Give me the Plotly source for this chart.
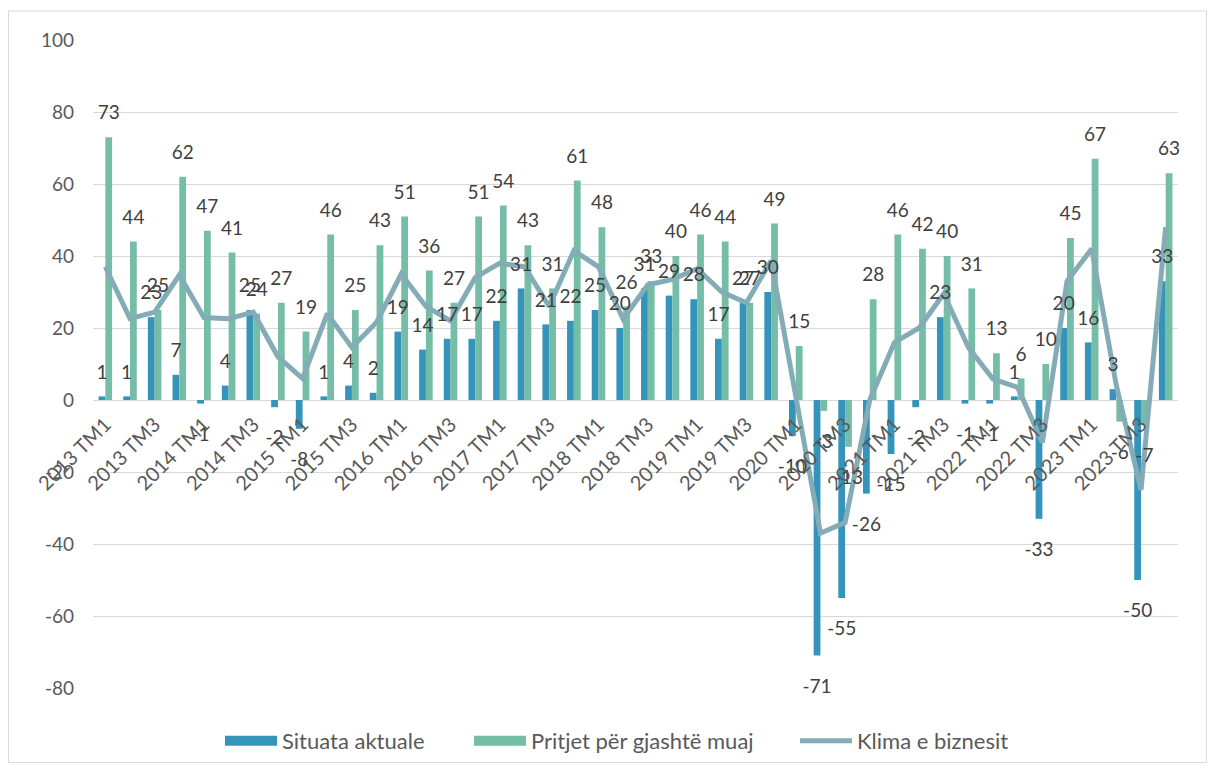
import plotly.graph_objects as go

years = list(range(2013, 2024))
categories = [f"{y} TM{q}" for y in years for q in range(1, 5)]
tick_labels = categories[::2]
y_ticks = [-80, -60, -40, -20, 0, 20, 40, 60, 80, 100]
y_tick_text = [str(v) for v in y_ticks]

situata_aktuale = [1, 1, 23, 7, -1, 4, 25, -2, -8, 1, 4, 2, 19, 14, 17, 17, 22, 31, 21, 22,
                   25, 20, 31, 29, 28, 17, 27, 30, -10, -71, -55, -26, -15, -2, 23, -1, -1, 1,
                   -33, 20, 16, 3, -50, 33]
pritjet = [73, 44, 25, 62, 47, 41, 24, 27, 19, 46, 25, 43, 51, 36, 27, 51, 54, 43, 31, 61,
           48, 26, 33, 40, 46, 44, 27, 49, 15, -3, -13, 28, 46, 42, 40, 31, 13, 6,
           10, 45, 67, -6, -7, 63]
klima = [37, 22.6, 24.4, 34.7, 22.9, 22.6, 24.4, 12, 6, 24, 14.6, 21.6, 35, 26, 22, 34, 38, 37, 26, 41.5,
         37, 22.5, 32, 33.5, 36.5, 30, 27, 38.7, 1, -37, -34, 0, 16, 20, 29.5, 14.6, 5.8, 3.5,
         -11.8, 33, 42, 4, -25, 48]
series_names = ["Situata aktuale", "Pritjet për gjashtë muaj", "Klima e biznesit"]

FONT = "Lato"
W, H = 1199, 755
L, R, T, B = 85, 29, 32, 75
pw, ph = W - L - R, H - T - B
BLUE, GREEN, LINE = "#3494BA", "#75BDA7", "#84ACB6"
LABEL_FONT = dict(family=FONT, size=19, color="#404040")
LABEL_PAD_POS, LABEL_PAD_NEG = 3.0, 4.2  # extra distance (axis units) between bar end and its label

fig = go.Figure()
fig.add_trace(go.Bar(x=categories, y=situata_aktuale, name=series_names[0], showlegend=False,
                     marker=dict(color=BLUE, line=dict(width=0)), hoverinfo="skip"))
fig.add_trace(go.Bar(x=categories, y=pritjet, name=series_names[1], showlegend=False,
                     marker=dict(color=GREEN, line=dict(width=0)), hoverinfo="skip"))
fig.add_trace(go.Scatter(x=categories, y=klima, name=series_names[2], showlegend=False,
                         mode="lines", line=dict(color=LINE, width=5), hoverinfo="skip"))

# legend-only entries (wide swatches like the original legend), one legend box each
legend_keys = ["legend", "legend2", "legend3"]
legend_left = [212, 461, 787]  # px in figure coordinates
for name, color, width, key in zip(series_names, (BLUE, GREEN, LINE), (13, 13, 5), legend_keys):
    fig.add_trace(go.Scatter(x=[None], y=[None], name=name, mode="lines",
                             line=dict(color=color, width=width), legend=key,
                             hoverinfo="skip"))

# data labels drawn in an overlay subplot so they sit above every series
for vals in (situata_aktuale, pritjet):
    fig.add_trace(go.Bar(
        x=categories,
        y=[v + (LABEL_PAD_POS if v >= 0 else -LABEL_PAD_NEG) for v in vals],
        xaxis="x2", yaxis="y2", showlegend=False, hoverinfo="skip",
        marker=dict(color="rgba(0,0,0,0)", line=dict(width=0)),
        text=[str(v) for v in vals], textposition="outside", constraintext="none",
        cliponaxis=False, textfont=LABEL_FONT,
    ))

legend_style = dict(orientation="h", xanchor="left", xref="container",
                    y=1 - 733 / H, yref="container", yanchor="middle",
                    font=dict(family=FONT, size=22, color="#595959"),
                    itemwidth=52, bgcolor="rgba(0,0,0,0)")

fig.update_layout(
    width=W, height=H, autosize=False,
    margin=dict(l=L, r=R, t=T, b=B, autoexpand=False),
    paper_bgcolor="white", plot_bgcolor="white",
    barmode="group", bargap=0.45, bargroupgap=0,
    font=dict(family=FONT, size=19, color="#595959"),
    showlegend=True,
    xaxis=dict(type="category", categoryarray=categories, range=[-0.5, len(categories) - 0.5],
               tickmode="array", tickvals=tick_labels, ticktext=tick_labels,
               tickangle=-45, anchor="free", position=80 / 180, showgrid=False,
               showline=False, ticks="", zeroline=False, ticklabelstandoff=8,
               tickfont=dict(family=FONT, size=20, color="#595959")),
    yaxis=dict(range=[-80, 100], tickmode="array", tickvals=y_ticks, ticktext=y_tick_text,
               showgrid=True, gridcolor="#d9d9d9",
               gridwidth=1, zeroline=True, zerolinecolor="#d9d9d9", zerolinewidth=1,
               showline=False, ticks="", ticklabelstandoff=18,
               tickfont=dict(family=FONT, size=19, color="#595959")),
    xaxis2=dict(type="category", categoryarray=categories, range=[-0.5, len(categories) - 0.5],
                overlaying="x", anchor="y2", visible=False),
    yaxis2=dict(range=[-80, 100], overlaying="y", anchor="x2", visible=False),
    shapes=[dict(type="rect", xref="paper", yref="paper",
                 x0=(0.5 - L) / pw, x1=(W - 0.5 - L) / pw,
                 y0=(ph - (H - 0.5 - T)) / ph, y1=(ph - (3 - T)) / ph,
                 line=dict(color="#d9d9d9", width=1), fillcolor="rgba(0,0,0,0)", layer="below")],
)
for key, left in zip(legend_keys, legend_left):
    fig.update_layout({key: dict(legend_style, x=left / W)})

fig.write_html("out.html")
